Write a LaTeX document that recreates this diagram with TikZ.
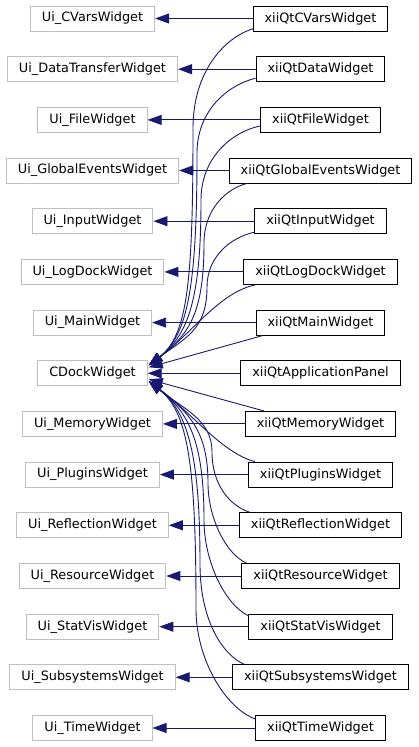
\documentclass[tikz,border=0pt]{standalone}
\usepackage{fontspec}
\setmainfont{DejaVu Sans}
\usetikzlibrary{arrows.meta,calc}
\definecolor{edgeblue}{HTML}{191970}
\definecolor{uigray}{HTML}{BFBFBF}
\begin{document}
\begin{tikzpicture}[x=1pt,y=-1pt,
  box/.style={fill=white, line width=1pt, minimum height=25pt, inner xsep=11.5pt, inner ysep=0pt,
    font=\fontsize{12.85}{15}\selectfont, anchor=center},
  ui/.style={box, draw=uigray},
  qt/.style={box, draw=black},
  inh/.style={draw=edgeblue, line width=0.9pt, -{Triangle[length=14pt,width=10pt]}}
]
\useasboundingbox (0,0) rectangle (419,747);
% left column
\node[ui] (u0)  at (92.5,18.5)  {Ui\_CVarsWidget};
\node[ui] (u1)  at (92.5,69.2)  {Ui\_DataTransferWidget};
\node[ui] (u2)  at (92.5,119.9) {Ui\_FileWidget};
\node[ui] (u3)  at (92.5,170.5) {Ui\_GlobalEventsWidget};
\node[ui] (u4)  at (92.5,221.2) {Ui\_InputWidget};
\node[ui] (u5)  at (92.5,271.9) {Ui\_LogDockWidget};
\node[ui] (u6)  at (92.5,322.6) {Ui\_MainWidget};
\node[ui] (cd)  at (92.5,373.3) {CDockWidget};
\node[ui] (u8)  at (92.5,423.9) {Ui\_MemoryWidget};
\node[ui] (u9)  at (92.5,474.6) {Ui\_PluginsWidget};
\node[ui] (u10) at (92.5,525.3) {Ui\_ReflectionWidget};
\node[ui] (u11) at (92.5,576.0) {Ui\_ResourceWidget};
\node[ui] (u12) at (92.5,626.7) {Ui\_StatVisWidget};
\node[ui] (u13) at (92.5,677.3) {Ui\_SubsystemsWidget};
\node[ui] (u14) at (92.5,728.0) {Ui\_TimeWidget};
% right column
\node[qt] (q0)  at (320.5,18.5)  {xiiQtCVarsWidget};
\node[qt] (q1)  at (320.5,69.2)  {xiiQtDataWidget};
\node[qt] (q2)  at (320.5,119.9) {xiiQtFileWidget};
\node[qt] (q3)  at (320.5,170.5) {xiiQtGlobalEventsWidget};
\node[qt] (q4)  at (320.5,221.2) {xiiQtInputWidget};
\node[qt] (q5)  at (320.5,271.9) {xiiQtLogDockWidget};
\node[qt] (q6)  at (320.5,322.6) {xiiQtMainWidget};
\node[qt] (q7)  at (320.5,373.3) {xiiQtApplicationPanel};
\node[qt] (q8)  at (320.5,423.9) {xiiQtMemoryWidget};
\node[qt] (q9)  at (320.5,474.6) {xiiQtPluginsWidget};
\node[qt] (q10) at (320.5,525.3) {xiiQtReflectionWidget};
\node[qt] (q11) at (320.5,576.0) {xiiQtResourceWidget};
\node[qt] (q12) at (320.5,626.7) {xiiQtStatVisWidget};
\node[qt] (q13) at (320.5,677.3) {xiiQtSubsystemsWidget};
\node[qt] (q14) at (320.5,728.0) {xiiQtTimeWidget};
% horizontal inheritance edges
\foreach \i in {0,1,2,3,4,5,6,8,9,10,11,12,13,14} {\draw[inh] (q\i) -- (u\i);}
\draw[inh] (q7) -- (cd);
% curves to CDockWidget (upper)
\draw[inh] ($(q0.south west)+(1,-3)$) .. controls (223,38) and (193,73) .. (193,128)
  .. controls (193,280) and (188,335) .. ($(cd.east)+(1,-8)$);
\draw[inh] ($(q1.south west)+(0,-4)$) .. controls (226,85.5) and (197,112) .. (197,153)
  .. controls (197,285) and (188,335) .. ($(cd.east)+(1,-8)$);
\draw[inh] ($(q2.south west)+(0,-7)$) .. controls (230,132.5) and (201,159) .. (201,200)
  .. controls (201,300) and (188,335) .. ($(cd.east)+(1,-8)$);
\draw[inh] ($(q3.south west)+(18,0)$) .. controls (225.5,189) and (204,210) .. (204,243)
  .. controls (204,315) and (188,335) .. ($(cd.east)+(1,-8)$);
\draw[inh] ($(q4.south west)+(0,-2)$) .. controls (230.5,237.5) and (207,256.75) .. (207,287)
  .. controls (207,330) and (185,338) .. ($(cd.east)+(1,-8)$);
\draw[inh] ($(q5.south west)+(12,0)$) .. controls (220,292) and (192,333) .. ($(cd.east)+(1,-8)$);
\draw[inh] ($(q6.south west)+(7,0)$) -- ($(cd.east)+(1,-6)$);
% curves to CDockWidget (lower)
\draw[inh] ($(q8.north west)+(19,0)$) -- ($(cd.east)+(1,6)$);
\draw[inh] ($(q9.north west)+(7,0)$) .. controls (222,453) and (192,413) .. ($(cd.east)+(1,8)$);
\draw[inh] ($(q10.north west)+(11,0)$) .. controls (230,506) and (212,485) .. (212,452)
  .. controls (212,420) and (185,410) .. ($(cd.east)+(1,8)$);
\draw[inh] ($(q11.north west)+(5,0)$) .. controls (227,555) and (208,519) .. (208,483)
  .. controls (208,430) and (188,412) .. ($(cd.east)+(1,8)$);
\draw[inh] ($(q12.north west)+(0,2)$) .. controls (226,605.5) and (204,562.75) .. (204,520)
  .. controls (204,440) and (188,412) .. ($(cd.east)+(1,8)$);
\draw[inh] ($(q13.north west)+(12,0)$) .. controls (221.5,654) and (200,619) .. (200,564)
  .. controls (200,455) and (188,412) .. ($(cd.east)+(1,8)$);
\draw[inh] ($(q14.north west)+(0,4)$) .. controls (225.5,708) and (196,659.5) .. (196,609)
  .. controls (196,465) and (188,412) .. ($(cd.east)+(1,8)$);
\end{tikzpicture}
\end{document}
